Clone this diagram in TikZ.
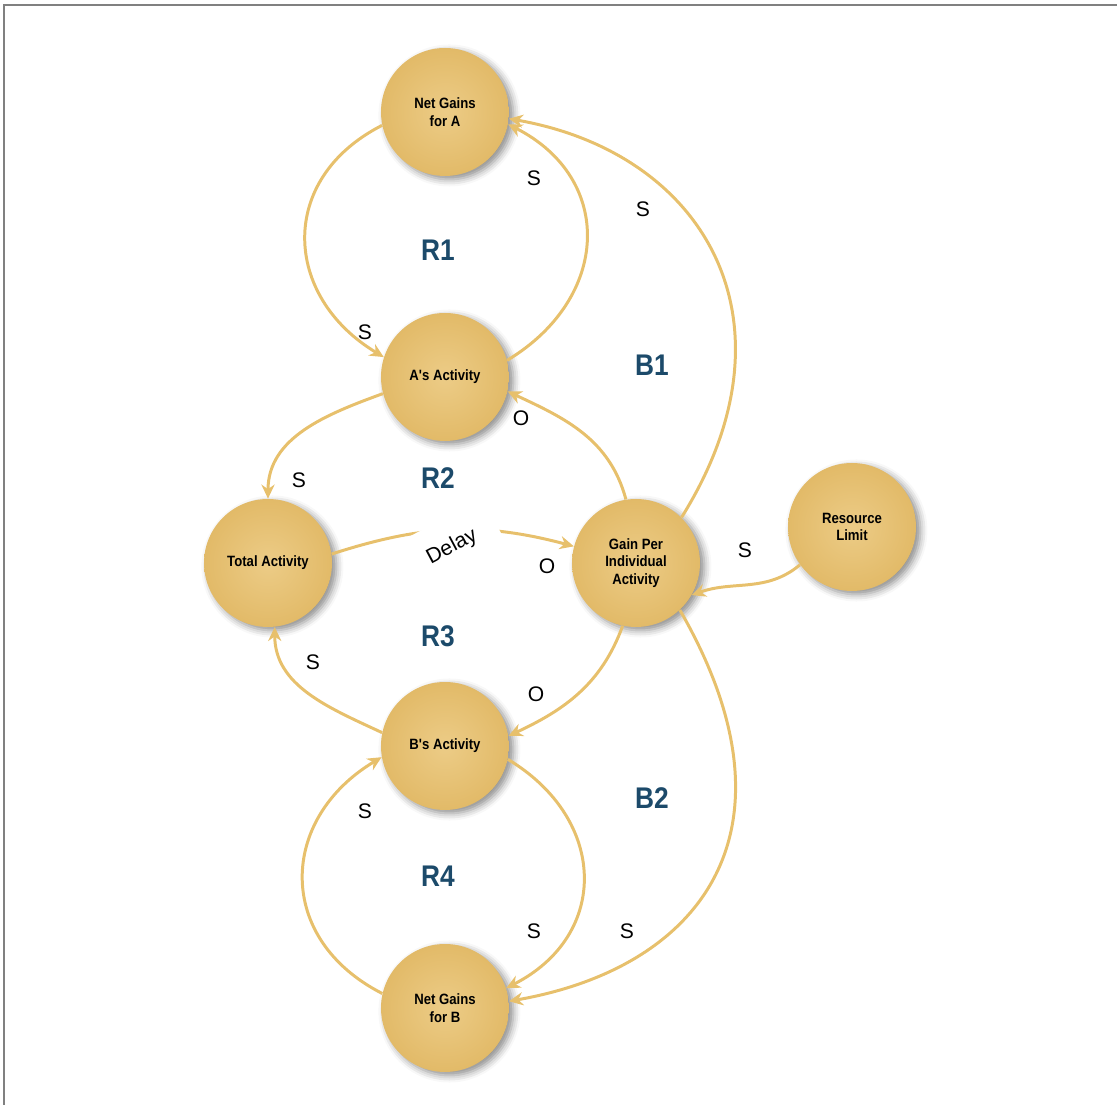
\documentclass[tikz,border=0pt]{standalone}
\usepackage{fontspec}
\setmainfont{Liberation Sans}
\newfontfamily\condfont{Liberation Sans}[FakeStretch=0.88]
\usetikzlibrary{arrows.meta,shadows.blur}
\definecolor{ballfill}{RGB}{234,198,121}
\definecolor{ballrim}{RGB}{226,186,104}
\definecolor{linkcol}{RGB}{231,192,108}
\definecolor{loopblue}{RGB}{28,74,106}
\tikzset{
  loopnode/.style={circle, minimum size=2.56cm, inner sep=0pt, align=center,
    inner color=ballfill!90!white, outer color=ballrim,
    blur shadow={shadow xshift=2.5pt, shadow yshift=-2pt, shadow blur radius=4pt, shadow opacity=45},
    font=\condfont\bfseries\fontsize{8.5}{10}\selectfont},
  link/.style={draw=linkcol, line width=1.7pt, -{Stealth[length=8pt,width=7.5pt]}},
  pol/.style={font=\fontsize{12}{12}\selectfont},
  looplabel/.style={text=loopblue, font=\condfont\bfseries\fontsize{17}{17}\selectfont}
}

\begin{document}
\begin{tikzpicture}[x=0.02cm, y=0.02cm]
			%%%%% START %%%%%
			\useasboundingbox (0,0) rectangle (1117,1105);
			\draw[line width=0.9pt, color=black!50] (4,0) -- (4,1100) -- (1117,1100);
			
			\node[loopnode] (nga) at (445, 993) {Net Gains\\for A};
			\node[loopnode] (aact) at (445, 728) {A's Activity};
			\node[loopnode] (total) at (268, 542) {Total Activity};
			\node[loopnode] (gain) at (636, 542) {Gain Per\\Individual\\Activity};
			\node[loopnode] (res) at (852, 578) {Resource\\Limit};
			\node[loopnode] (bact) at (445, 359) {B's Activity};
			\node[loopnode] (ngb) at (445, 97) {Net Gains\\for B};
			
			% upper loops
			\draw[link] (nga.192) to[out=207, in=149, looseness=1.3] (aact.162);
			\draw[link] (aact.15) to[out=31, in=333, looseness=1.3] (nga.349);
			\draw[link] (gain.45) .. controls +(58:230) and +(350:200) .. (nga.354);
			\draw[link] (gain.99) to[out=105, in=-25] (aact.-13);
			\draw[link] (aact.195) to[out=200, in=90] (total.90);
			
			% middle
			\draw[link] (total.8) to[out=18, in=165] (gain.165);
			\node[pol, fill=white, rotate=28, inner xsep=13pt, inner ysep=11pt] (delay) at (452, 558) {Delay};
			\draw[link] (res.216) to[out=220, in=20] (gain.-30);
			
			% lower loops
			\draw[link] (bact.168) to[out=155, in=-90] (total.276);
			\draw[link] (gain.258) to[out=250, in=25] (bact.9);
			\draw[link] (bact.348) to[out=-31, in=27, looseness=1.3] (ngb.18);
			\draw[link] (ngb.167) to[out=153, in=211, looseness=1.3] (bact.190);
			\draw[link] (gain.-47) .. controls +(-60:250) and +(10:200) .. (ngb.6);
			
			% polarities
			\node[pol] (s1) at (534, 927) {S};
			\node[pol] (s2) at (643, 896) {S};
			\node[pol] (s3) at (365, 773) {S};
			\node[pol] (o1) at (521, 687) {O};
			\node[pol] (s4) at (299, 625) {S};
			\node[pol] (o2) at (547, 539) {O};
			\node[pol] (s5) at (745, 555) {S};
			\node[pol] (s6) at (313, 443) {S};
			\node[pol] (o3) at (536, 411) {O};
			\node[pol] (s7) at (365, 294) {S};
			\node[pol] (s8) at (534, 174) {S};
			\node[pol] (s9) at (627, 174) {S};
			
			% loop names
			\node[looplabel] (r1) at (438, 855) {R1};
			\node[looplabel] (b1) at (652, 740) {B1};
			\node[looplabel] (r2) at (438, 627) {R2};
			\node[looplabel] (r3) at (438, 469) {R3};
			\node[looplabel] (b2) at (652, 307) {B2};
			\node[looplabel] (r4) at (438, 229) {R4};
			%%%%% END %%%%%
\end{tikzpicture}
\end{document}
